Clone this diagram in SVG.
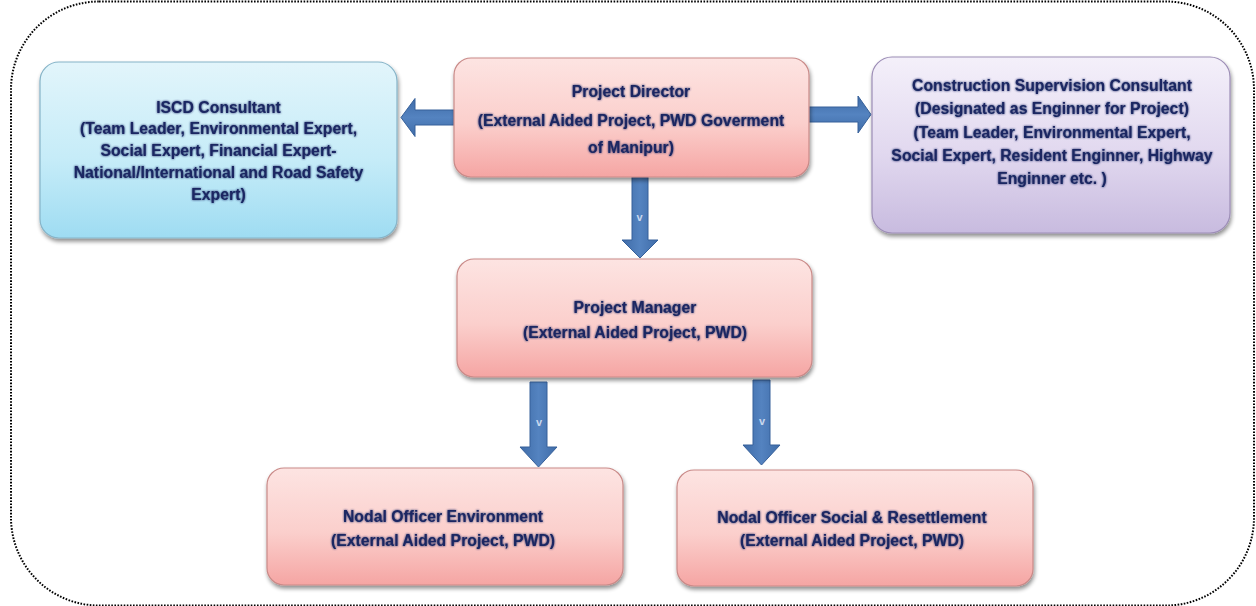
<svg xmlns="http://www.w3.org/2000/svg" width="1256" height="606" viewBox="0 0 1256 606">
  <defs>
    <linearGradient id="gradPink" x1="0" y1="0" x2="0" y2="1">
      <stop offset="0" stop-color="#fde4e2"/>
      <stop offset="0.55" stop-color="#fbcfcc"/>
      <stop offset="1" stop-color="#f5a5a3"/>
    </linearGradient>
    <linearGradient id="gradBlue" x1="0" y1="0" x2="0" y2="1">
      <stop offset="0" stop-color="#e2f5fb"/>
      <stop offset="0.55" stop-color="#c6ecf8"/>
      <stop offset="1" stop-color="#9edcf2"/>
    </linearGradient>
    <linearGradient id="gradLilac" x1="0" y1="0" x2="0" y2="1">
      <stop offset="0" stop-color="#f4f0fa"/>
      <stop offset="0.55" stop-color="#e1d8ef"/>
      <stop offset="1" stop-color="#c8bbdf"/>
    </linearGradient>
    <linearGradient id="gradArrowV" x1="0" y1="0" x2="1" y2="0">
      <stop offset="0" stop-color="#3f6ca8"/>
      <stop offset="0.5" stop-color="#5483c0"/>
      <stop offset="1" stop-color="#3f6ca8"/>
    </linearGradient>
    <linearGradient id="gradArrowH" x1="0" y1="0" x2="0" y2="1">
      <stop offset="0" stop-color="#3f6ca8"/>
      <stop offset="0.5" stop-color="#5483c0"/>
      <stop offset="1" stop-color="#3f6ca8"/>
    </linearGradient>
    <filter id="boxShadow" x="-10%" y="-10%" width="120%" height="130%">
      <feGaussianBlur in="SourceAlpha" stdDeviation="2"/>
      <feOffset dx="1" dy="3" result="blur"/>
      <feComponentTransfer><feFuncA type="linear" slope="0.45"/></feComponentTransfer>
      <feMerge><feMergeNode/><feMergeNode in="SourceGraphic"/></feMerge>
    </filter>
    <filter id="textGlow" x="-5%" y="-30%" width="110%" height="160%">
      <feGaussianBlur in="SourceGraphic" stdDeviation="1.2" result="halo"/>
      <feMerge><feMergeNode in="halo"/><feMergeNode in="SourceGraphic"/></feMerge>
    </filter>
  </defs>
  <style>
    .frame { fill: none; stroke: #000; stroke-width: 2; stroke-dasharray: 1.6 1.5; }
    .box { stroke-width: 1.2; }
    .pink { fill: url(#gradPink); stroke: #c98a88; }
    .blue { fill: url(#gradBlue); stroke: #86b4c8; }
    .lilac { fill: url(#gradLilac); stroke: #9c8db6; }
    .label { font-family: "Liberation Sans", Arial, sans-serif; font-weight: bold; font-size: 15.8px; fill: #1a2762; text-anchor: middle; }
    .arrowV { fill: url(#gradArrowV); stroke: #36609a; stroke-width: 1; }
    .arrowH { fill: url(#gradArrowH); stroke: #36609a; stroke-width: 1; }
    .tag { font-family: "Liberation Sans", Arial, sans-serif; font-weight: bold; font-size: 11px; fill: #c9d8ee; text-anchor: middle; }
  </style>

  <!-- dotted outer frame -->
  <rect class="frame" x="11" y="1.5" width="1243" height="604" rx="88" ry="88"/>

  <g id="connectors">
    <!-- Project Director -> ISCD Consultant -->
    <polygon class="arrowH" points="454,110 415,110 415,98.5 401,117.5 415,136.5 415,125 454,125"/>
    <!-- Project Director -> Construction Supervision Consultant -->
    <polygon class="arrowH" points="808,107 858,107 858,96 871,114.5 858,133 858,122 808,122"/>
    <!-- Project Director -> Project Manager -->
    <polygon class="arrowV" points="632,177 648,177 648,240 658,240 640,258 622,240 632,240"/>
    <text class="tag" x="639.5" y="221">v</text>
    <!-- Project Manager -> Nodal Officer Environment -->
    <polygon class="arrowV" points="530,382 547,382 547,447 557,447 538.5,467 520,447 530,447"/>
    <text class="tag" x="539" y="426">v</text>
    <!-- Project Manager -> Nodal Officer Social & Resettlement -->
    <polygon class="arrowV" points="753,380 770,380 770,445 780,445 761.5,465 743,445 753,445"/>
    <text class="tag" x="762" y="425">v</text>
  </g>

  <g id="iscd-consultant" filter="url(#boxShadow)">
    <rect class="box blue" x="40" y="62" width="357" height="176" rx="19"/>
    <g filter="url(#textGlow)">
      <text class="label" x="218.5" y="113" font-size="17.5">ISCD Consultant</text>
      <text class="label" x="218.5" y="134" font-size="17.5">(Team Leader, Environmental Expert,</text>
      <text class="label" x="218.5" y="156" font-size="17.5">Social Expert, Financial Expert-</text>
      <text class="label" x="218.5" y="178" font-size="17.5">National/International and Road  Safety</text>
      <text class="label" x="218.5" y="200" font-size="17.5">Expert)</text>
    </g>
  </g>

  <g id="project-director" filter="url(#boxShadow)">
    <rect class="box pink" x="454" y="58" width="355" height="119" rx="17"/>
    <g filter="url(#textGlow)">
      <text class="label" x="631" y="97">Project Director</text>
      <text class="label" x="631" y="126">(External Aided Project, PWD Goverment</text>
      <text class="label" x="631" y="153">of Manipur)</text>
    </g>
  </g>

  <g id="construction-supervision-consultant" filter="url(#boxShadow)">
    <rect class="box lilac" x="872" y="57" width="358" height="176" rx="20"/>
    <g filter="url(#textGlow)">
      <text class="label" x="1052" y="91" font-size="16.8">Construction Supervision Consultant</text>
      <text class="label" x="1052" y="114" font-size="16.8">(Designated as Enginner for Project)</text>
      <text class="label" x="1052" y="138" font-size="16.8">(Team Leader, Environmental Expert,</text>
      <text class="label" x="1052" y="161" font-size="16.8">Social Expert, Resident Enginner, Highway</text>
      <text class="label" x="1052" y="184" font-size="16.8">Enginner etc. )</text>
    </g>
  </g>

  <g id="project-manager" filter="url(#boxShadow)">
    <rect class="box pink" x="457" y="259" width="355" height="118" rx="17"/>
    <g filter="url(#textGlow)">
      <text class="label" x="635" y="313" font-size="16.2">Project  Manager</text>
      <text class="label" x="635" y="338" font-size="16.2">(External Aided Project, PWD)</text>
    </g>
  </g>

  <g id="nodal-officer-environment" filter="url(#boxShadow)">
    <rect class="box pink" x="267" y="468" width="356" height="117" rx="17"/>
    <g filter="url(#textGlow)">
      <text class="label" x="443" y="522">Nodal Officer Environment</text>
      <text class="label" x="443" y="546">(External Aided Project, PWD)</text>
    </g>
  </g>

  <g id="nodal-officer-social" filter="url(#boxShadow)">
    <rect class="box pink" x="677" y="470" width="356" height="116" rx="17"/>
    <g filter="url(#textGlow)">
      <text class="label" x="852" y="523">Nodal Officer Social &amp; Resettlement</text>
      <text class="label" x="852" y="546">(External Aided Project, PWD)</text>
    </g>
  </g>
</svg>
